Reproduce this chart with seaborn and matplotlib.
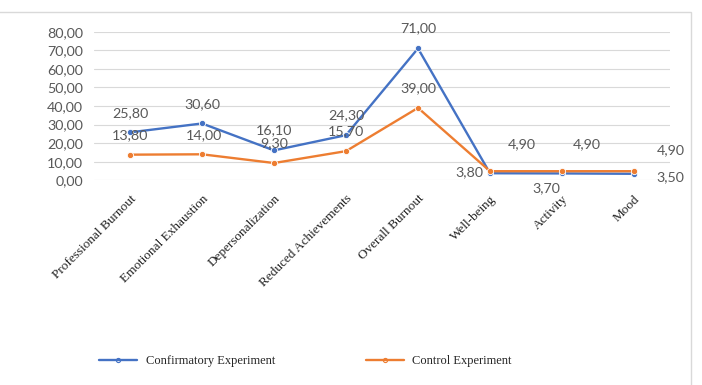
import matplotlib
matplotlib.use("Agg")
import matplotlib.pyplot as plt
import matplotlib.ticker as mticker
from matplotlib.patches import Rectangle
from matplotlib.lines import Line2D
import seaborn as sns
import pandas as pd

# Chart data
categories = ["Professional Burnout", "Emotional Exhaustion", "Depersonalization",
              "Reduced Achievements", "Overall Burnout", "Well-being", "Activity", "Mood"]
confirmatory = [25.80, 30.60, 16.10, 24.30, 71.00, 3.80, 3.70, 3.50]
control = [13.80, 14.00, 9.30, 15.70, 39.00, 4.90, 4.90, 4.90]
series_names = ["Confirmatory Experiment", "Control Experiment"]

# Data label offsets in pixels (dx, dy), as placed in the original
conf_offsets = [(0, 19), (0, 19), (0, 20), (0, 20), (0, 20), (-21, 1), (-16, -15), (36, -3)]
ctrl_offsets = [(0, 20), (2, 19), (0, 20), (0, 20), (0, 20), (32, 27), (25, 27), (37, 21)]

df = pd.DataFrame({
    "Category": categories * 2,
    "Value": confirmatory + control,
    "Series": [series_names[0]] * len(categories) + [series_names[1]] * len(categories),
})

sns.set_style("white")
colors = {series_names[0]: "#4472C4", series_names[1]: "#ED7D31"}

fig = plt.figure(figsize=(7.02, 3.85), dpi=100)
ax = fig.add_axes([94 / 702, 1 - 180.3 / 385, 576 / 702, 148.6 / 385])

sns.lineplot(data=df, x="Category", y="Value", hue="Series", palette=colors,
             marker="o", markersize=4.5, linewidth=1.7, markeredgewidth=0.6,
             sort=False, legend=False, ax=ax)

ax.set_xlim(-0.5, len(categories) - 0.5)
ax.set_ylim(0, 80)
ax.set_yticks(range(0, 81, 10))
ax.yaxis.set_major_formatter(mticker.FuncFormatter(lambda v, p: f"{v:.2f}".replace(".", ",")))
ax.grid(axis="y", color="#d9d9d9", linewidth=0.8)
ax.grid(axis="x", visible=False)
for s in ax.spines.values():
    s.set_visible(False)
ax.set_xlabel("")
ax.set_ylabel("")
ax.tick_params(axis="y", length=0, pad=8, labelcolor="#595959", labelsize=10.3)
ax.tick_params(axis="x", length=0, pad=9)
for lbl in ax.get_yticklabels():
    lbl.set_family("Lato")
ax.set_xticks(range(len(categories)))
ax.set_xticklabels(categories, rotation=45, ha="right", rotation_mode="anchor",
                   family="Liberation Serif", fontsize=9.5, color="#222222")

# Data labels
for vals, offs in [(confirmatory, conf_offsets), (control, ctrl_offsets)]:
    for i, (v, (dx, dy)) in enumerate(zip(vals, offs)):
        ax.annotate(f"{v:.2f}".replace(".", ","), (i, v), xytext=(dx, dy),
                    textcoords="offset pixels", ha="center", va="center",
                    family="Lato", fontsize=10.3, color="#595959")

# Legend at the bottom
handles = [Line2D([], [], color=colors[n], marker="o", markersize=3, linewidth=1.7,
                  markerfacecolor="none", markeredgewidth=0.8) for n in series_names]
leg = fig.legend(handles, series_names, loc="center left", bbox_to_anchor=(88 / 702, 1 - 361 / 385),
                 ncol=2, frameon=False, handlelength=3.0, columnspacing=7.3,
                 handletextpad=0.7, prop={"family": "Liberation Serif", "size": 9})

# Outer chart frame (cropped)
fig.patches.append(Rectangle((-0.05, -0.05), 0.05 + 691 / 702, 0.05 + 1 - 12 / 385,
                             transform=fig.transFigure, fill=False,
                             edgecolor="#d9d9d9", linewidth=1))

fig.savefig("out.png", dpi=100)
